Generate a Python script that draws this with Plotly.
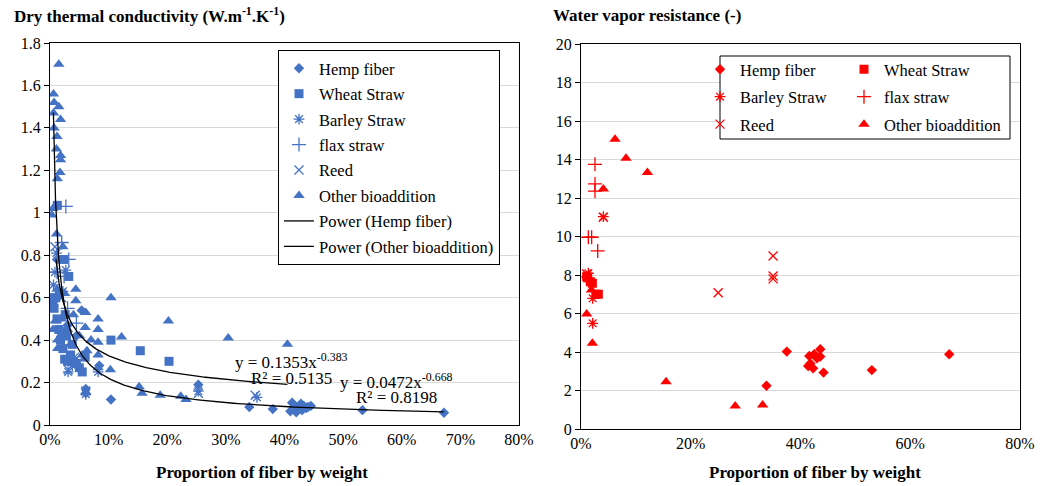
import numpy as np
import plotly.graph_objects as go

BLUE = "#4472C4"
RED = "#FF0000"
FONT = "Liberation Serif"

# ---------------- Left chart: dry thermal conductivity ----------------
hemp_x = [0.054, 0.061, 0.061, 0.084, 0.104, 0.253, 0.34, 0.38, 0.41, 0.413, 0.418, 0.42,
          0.425, 0.428, 0.43, 0.433, 0.437, 0.44, 0.445, 0.533, 0.672, 0.012, 0.02, 0.03, 0.045]
hemp_y = [0.54, 0.17, 0.15, 0.28, 0.12, 0.19, 0.085, 0.075, 0.065, 0.105, 0.09, 0.06,
          0.08, 0.1, 0.07, 0.09, 0.08, 0.085, 0.09, 0.07, 0.058, 0.78, 0.62, 0.47, 0.42]

wheat_x = [0.0125, 0.023, 0.032, 0.005, 0.007, 0.010, 0.012, 0.015, 0.018, 0.020, 0.022, 0.025,
           0.028, 0.030, 0.035, 0.040, 0.045, 0.050, 0.055, 0.060, 0.016, 0.026, 0.038, 0.104,
           0.154, 0.203, 0.002]
wheat_y = [1.035, 0.78, 0.70, 0.58, 0.55, 0.60, 0.50, 0.45, 0.40, 0.44, 0.36, 0.31,
           0.42, 0.30, 0.33, 0.30, 0.29, 0.27, 0.25, 0.32, 0.62, 0.52, 0.38, 0.40,
           0.35, 0.30, 0.60]

barley_x = [0.0085, 0.011, 0.027, 0.022, 0.031, 0.082, 0.061, 0.253, 0.353, 0.006, 0.038]
barley_y = [0.72, 0.81, 0.73, 0.63, 0.25, 0.25, 0.145, 0.16, 0.13, 0.66, 0.28]

flax_x = [0.027, 0.024, 0.032, 0.020, 0.030, 0.045, 0.012]
flax_y = [1.03, 0.70, 0.78, 0.86, 0.55, 0.48, 0.72]

reed_x = [0.0085, 0.02, 0.031, 0.061, 0.253, 0.35, 0.042]
reed_y = [0.84, 0.60, 0.26, 0.16, 0.15, 0.14, 0.32]

other_x = [0.015, 0.006, 0.007, 0.015, 0.006, 0.018, 0.007, 0.012, 0.011, 0.018, 0.018, 0.017,
           0.0125, 0.005, 0.003, 0.011, 0.022, 0.012, 0.044, 0.044, 0.104, 0.061, 0.082, 0.082,
           0.202, 0.122, 0.082, 0.013, 0.013, 0.063, 0.082, 0.082, 0.103, 0.152, 0.157, 0.188,
           0.223, 0.232, 0.009, 0.304, 0.405, 0.005, 0.02, 0.03, 0.035, 0.05, 0.025, 0.04, 0.06,
           0.07, 0.055]
other_y = [1.70, 1.56, 1.52, 1.50, 1.47, 1.44, 1.40, 1.36, 1.30, 1.27, 1.25, 1.19,
           1.16, 1.02, 0.99, 0.90, 0.84, 0.64, 0.64, 0.585, 0.60, 0.53, 0.50, 0.45,
           0.49, 0.415, 0.39, 0.40, 0.36, 0.35, 0.33, 0.27, 0.26, 0.18, 0.15, 0.14,
           0.135, 0.12, 0.49, 0.41, 0.38, 0.45, 0.50, 0.45, 0.38, 0.42, 0.62, 0.52, 0.46,
           0.40, 0.33]

# Trendline coefficients shown on the chart (y = a * x^b)
hemp_a, hemp_b = 0.0472, -0.668
other_a, other_b = 0.1353, -0.383
hemp_fit_range = (0.0058, 0.672)
other_fit_range = (0.0103, 0.405)

# ---------------- Right chart: water vapor resistance ----------------
r_hemp_x = [0.375, 0.416, 0.425, 0.436, 0.436, 0.43, 0.414, 0.423, 0.418, 0.442, 0.338, 0.53, 0.671]
r_hemp_y = [4.02, 3.79, 3.88, 4.14, 3.76, 3.67, 3.27, 3.15, 3.4, 2.93, 2.25, 3.06, 3.88]
r_wheat_x = [0.0103, 0.012, 0.017, 0.0207, 0.027, 0.0316]
r_wheat_y = [7.91, 7.85, 7.65, 7.57, 7.0, 7.0]
r_barley_x = [0.0407, 0.0213, 0.0213, 0.0134, 0.0103]
r_barley_y = [11.03, 6.79, 5.49, 8.09, 7.9]
r_flax_x = [0.0255, 0.0255, 0.0255, 0.0134, 0.0194, 0.0304]
r_flax_y = [13.75, 12.73, 12.36, 9.96, 9.96, 9.25]
r_reed_x = [0.35, 0.35, 0.35, 0.25, 0.0407, 0.0103]
r_reed_y = [8.99, 7.95, 7.8, 7.08, 11.0, 8.05]
r_other_x = [0.062, 0.082, 0.121, 0.0407, 0.0103, 0.0207, 0.019, 0.155, 0.281, 0.331]
r_other_y = [15.05, 14.06, 13.33, 12.47, 5.97, 4.45, 7.22, 2.46, 1.19, 1.25]

W, H = 1048, 486


def px_x(v):
    return v / W


def px_y(v):
    return 1 - v / H


fig = go.Figure()

SYMS = {
    "Hemp fiber": ("diamond", 8),
    "Wheat Straw": ("square", 9),
    "Barley Straw": ("asterisk-open", 9),
    "flax straw": ("cross-thin-open", 10),
    "Reed": ("x-thin-open", 9),
    "Other bioaddition": ("triangle-up", 10),
}


def add_pts(name, xs, ys, color, xa, ya, legend):
    sym, size = SYMS[name]
    fig.add_trace(go.Scatter(
        x=xs, y=ys, mode="markers", name=name, xaxis=xa, yaxis=ya,
        legend=legend, legendgroup=legend + name,
        marker=dict(symbol=sym, size=size, color=color,
                    line=dict(color=color, width=1.3 if "open" in sym else 0)),
    ))


add_pts("Hemp fiber", hemp_x, hemp_y, BLUE, "x", "y", "legend")
add_pts("Wheat Straw", wheat_x, wheat_y, BLUE, "x", "y", "legend")
add_pts("Barley Straw", barley_x, barley_y, BLUE, "x", "y", "legend")
add_pts("flax straw", flax_x, flax_y, BLUE, "x", "y", "legend")
add_pts("Reed", reed_x, reed_y, BLUE, "x", "y", "legend")
add_pts("Other bioaddition", other_x, other_y, BLUE, "x", "y", "legend")

hx = np.geomspace(*hemp_fit_range, 200)
ox = np.geomspace(*other_fit_range, 200)
fig.add_trace(go.Scatter(x=hx, y=hemp_a * hx ** hemp_b, mode="lines", name="Power (Hemp fiber)",
                         line=dict(color="black", width=1.3), legend="legend",
                         legendgroup="lp1", xaxis="x", yaxis="y"))
fig.add_trace(go.Scatter(x=ox, y=other_a * ox ** other_b, mode="lines",
                         name="Power (Other bioaddition)",
                         line=dict(color="black", width=1.3), legend="legend",
                         legendgroup="lp2", xaxis="x", yaxis="y"))

# right chart, two legend columns
add_pts("Hemp fiber", r_hemp_x, r_hemp_y, RED, "x2", "y2", "legend2")
add_pts("Barley Straw", r_barley_x, r_barley_y, RED, "x2", "y2", "legend2")
add_pts("Reed", r_reed_x, r_reed_y, RED, "x2", "y2", "legend2")
add_pts("Wheat Straw", r_wheat_x, r_wheat_y, RED, "x2", "y2", "legend3")
add_pts("flax straw", r_flax_x, r_flax_y, RED, "x2", "y2", "legend3")
add_pts("Other bioaddition", r_other_x, r_other_y, RED, "x2", "y2", "legend3")

tickfont = dict(family=FONT, size=16, color="black")
xcommon = dict(tickformat=".0%", showgrid=False, showline=True, linecolor="black", linewidth=1,
               mirror=True, ticks="", tickfont=tickfont, zeroline=False, automargin=False)
ycommon = dict(showgrid=True, gridcolor="#d9d9d9", gridwidth=1, showline=True, linecolor="black",
               linewidth=1, mirror=True, ticks="outside", ticklen=5, tickcolor="black",
               tickfont=tickfont, zeroline=False, automargin=False)

legfont = dict(family=FONT, size=16.5, color="black")

fig.update_layout(
    width=W, height=H, margin=dict(l=0, r=0, t=0, b=0, autoexpand=False),
    paper_bgcolor="white", plot_bgcolor="white",
    font=dict(family=FONT, color="black"),
    xaxis=dict(domain=[px_x(50), px_x(519)], range=[0, 0.8], dtick=0.1, anchor="y", **xcommon),
    yaxis=dict(domain=[px_y(425), px_y(43)], range=[0, 1.8], dtick=0.2, anchor="x", **ycommon),
    xaxis2=dict(domain=[px_x(581), px_x(1020)], range=[0, 0.8], dtick=0.2, anchor="y2", **xcommon),
    yaxis2=dict(domain=[px_y(429), px_y(44)], range=[0, 20], dtick=2, anchor="x2", **ycommon),
    legend=dict(x=px_x(278), y=px_y(50), xanchor="left", yanchor="top", bgcolor="white",
                bordercolor="black", borderwidth=1, font=legfont, itemwidth=30,
                traceorder="grouped", tracegroupgap=1),
    legend2=dict(x=px_x(700), y=px_y(52), xanchor="left", yanchor="top",
                 bgcolor="rgba(0,0,0,0)", borderwidth=0, font=legfont, itemwidth=30,
                 traceorder="grouped", tracegroupgap=3),
    legend3=dict(x=px_x(844), y=px_y(52), xanchor="left", yanchor="top",
                 bgcolor="rgba(0,0,0,0)", borderwidth=0, font=legfont, itemwidth=30,
                 traceorder="grouped", tracegroupgap=3),
    shapes=[dict(type="rect", xref="paper", yref="paper", x0=px_x(720), x1=px_x(1010),
                 y0=px_y(139), y1=px_y(56), line=dict(color="black", width=1),
                 fillcolor="white", layer="above")],
)

eqfont = dict(family=FONT, size=17, color="black")
titlefont = dict(family=FONT, size=17, color="black")
annots = [
    dict(text="<b>Dry thermal conductivity (W.m<sup>-1</sup>.K<sup>-1</sup>)</b>", xref="paper",
         yref="paper", x=px_x(12), y=px_y(15), xanchor="left", yanchor="middle", showarrow=False,
         font=titlefont),
    dict(text="<b>Water vapor resistance (-)</b>", xref="paper", yref="paper", x=px_x(551),
         y=px_y(15), xanchor="left", yanchor="middle", showarrow=False, font=titlefont),
    dict(text="<b>Proportion of fiber by weight</b>", xref="paper", yref="paper", x=px_x(262),
         y=px_y(472), xanchor="center", yanchor="middle", showarrow=False, font=titlefont),
    dict(text="<b>Proportion of fiber by weight</b>", xref="paper", yref="paper", x=px_x(815),
         y=px_y(472), xanchor="center", yanchor="middle", showarrow=False, font=titlefont),
    dict(text=f"y = {other_a}x<sup>{other_b}</sup>", xref="x", yref="y", x=0.312, y=0.302,
         xanchor="left", yanchor="middle", showarrow=False, font=eqfont),
    dict(text="R² = 0.5135", xref="x", yref="y", x=0.340, y=0.217,
         xanchor="left", yanchor="middle", showarrow=False, font=eqfont),
    dict(text=f"y = {hemp_a}x<sup>{hemp_b}</sup>", xref="x", yref="y", x=0.492, y=0.208,
         xanchor="left", yanchor="middle", showarrow=False, font=eqfont),
    dict(text="R² = 0.8198", xref="x", yref="y", x=0.518, y=0.128,
         xanchor="left", yanchor="middle", showarrow=False, font=eqfont),
]
fig.update_layout(annotations=annots)

fig.write_html("out.html", config={"displayModeBar": False},
               post_script="document.body.style.margin='0';")
